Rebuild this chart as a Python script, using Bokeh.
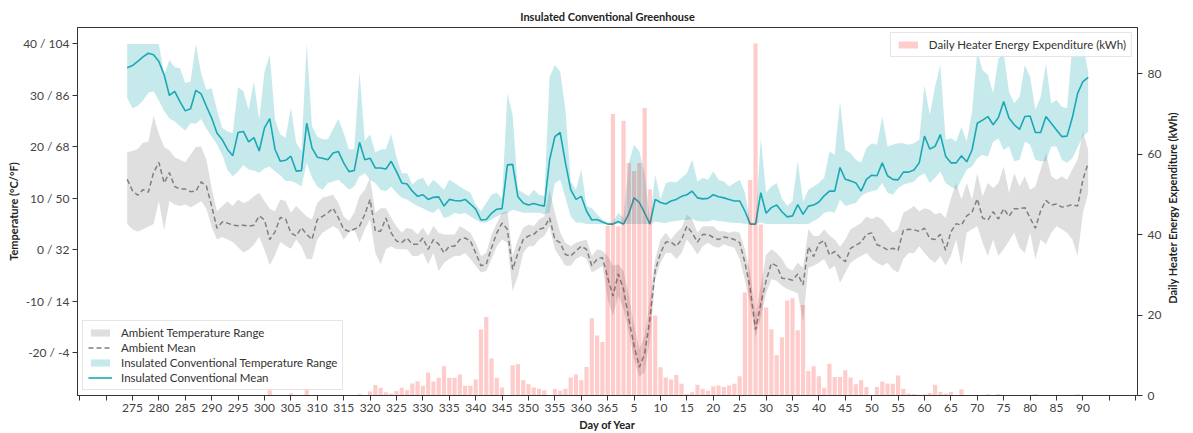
import math
import numpy as np
from bokeh.plotting import figure
from bokeh.layouts import row
from bokeh.models import (Range1d, LinearAxis, FixedTicker, Legend, LegendItem,
                          ColumnDataSource, Label)
from bokeh.embed import file_html
from bokeh.resources import INLINE

FONT = "Lato"

# Day of year for each daily record (1 Oct .. 31 Mar)
days = list(range(274, 366)) + list(range(1, 92))

# Ambient temperature (°C)
amb_mean = [
    13.7, 11.5, 10.6, 11.7, 11.2, 15.0, 17.0, 13.0, 15.0, 12.3,
    11.8, 11.8, 11.3, 11.4, 13.2, 12.4, 8.5, 4.2, 5.4, 5.2,
    4.8, 4.7, 4.8, 4.6, 4.8, 6.6, 5.8, 2.0, 3.5, 6.3,
    6.0, 3.3, 2.7, 4.3, 3.0, 2.0, 5.9, 6.5, 7.2, 8.1,
    6.2, 4.0, 3.6, 4.0, 4.6, 6.9, 9.8, 3.6, 3.6, 6.2,
    3.3, 1.7, 1.4, 2.3, 1.1, 1.1, 2.3, 0.1, 2.0, 1.1,
    -0.6, 0.7, 0.7, 2.0, 2.3, 1.7, -0.6, -3.1, -2.8, 0.4,
    3.3, 5.2, 4.0, -3.8, -0.6, 2.0, 2.7, 3.0, 4.0, 4.3,
    6.2, 2.0, 1.4, -0.9, -1.2, -0.2, 0.7, 0.1, -3.1, -1.8,
    -1.5, -5.4, -9.0, -4.7, -7.6, -13.4, -18.6, -22.8, -20.2, -13.4,
    -4.0, -0.6, 1.5, 1.5, 0.7, 2.0, 4.6, 3.3, 1.5, 3.0,
    3.0, 2.4, 2.0, 2.5, 2.3, 2.0, 1.4, -2.5, -7.6, -15.5,
    -10.5, -6.0, -2.6, -3.1, -5.5, -5.6, -5.9, -4.7, -6.8, 0.6,
    -1.3, 1.2, 1.8, -1.0, -0.3, -1.5, -2.3, 0.3, 0.9, 1.5,
    3.0, 3.3, 1.0, 0.6, 0.0, 0.3, -0.1, 3.8, 4.0, 3.9,
    3.6, 4.2, 2.2, 2.0, 3.0, -0.1, 3.5, 5.1, 4.8, 6.6,
    7.3, 9.9, 6.2, 5.8, 7.4, 6.0, 8.0, 6.5, 8.0, 8.0,
    8.2, 6.2, 4.2, 7.6, 9.6, 8.7, 8.9, 8.3, 8.5, 8.8,
    8.5, 13.6, 16.9,
]
amb_min = [
    5.0, 4.0, 3.5, 4.0, 4.5, 5.0, 9.5, 3.8, 9.5, 8.8,
    8.5, 8.8, 8.3, 8.8, 9.5, 8.0, 4.5, 2.0, 2.5, 2.0,
    1.5, 0.5, -0.5, 0.0, 1.0, 2.5, 0.0, -3.0, -1.0, 1.5,
    0.8, 0.2, 2.0, 0.7, -1.8, -1.8, 2.0, 3.3, 4.0, 4.6,
    4.0, 2.0, 3.3, 4.0, 1.4, 4.0, 5.9, -0.6, -2.8, 0.1,
    0.7, 0.1, 0.1, 0.1, -1.2, -1.2, -0.6, -2.8, -0.6, -4.1,
    -2.5, -1.8, -1.2, -1.2, -0.6, -1.8, -3.1, -4.4, -4.1, -1.8,
    0.7, 2.0, 1.4, -8.0, -5.1, -0.6, 0.7, 0.7, 2.0, 2.7,
    4.6, 0.1, -1.5, -3.1, -3.1, -1.8, -1.2, -1.8, -4.4, -3.8,
    -3.1, -9.6, -12.8, -8.9, -11.5, -16.0, -21.2, -24.7, -23.8, -17.3,
    -5.7, -2.5, -0.6, -0.6, -1.8, -0.6, 2.0, 0.7, -0.9, 0.7,
    1.4, 0.7, 0.4, 1.1, 0.7, 0.4, -1.8, -6.0, -10.5, -17.0,
    -13.0, -8.5, -5.7, -6.0, -7.0, -7.6, -8.0, -8.5, -14.0, -3.5,
    -3.1, -2.5, -1.8, -3.8, -3.1, -6.4, -4.4, -2.5, -1.8, -1.2,
    -0.6, -1.8, -2.5, -3.1, -2.5, -3.8, -4.4, -1.8, -0.6, -0.6,
    0.7, -0.6, -1.8, -2.5, -1.2, -3.1, -1.2, 2.0, -3.1, 3.3,
    4.0, 4.6, 1.4, -1.2, 2.0, -1.2, 0.1, 1.7, 3.3, 0.4,
    -0.6, 3.3, -1.8, 2.0, 1.1, 3.3, 4.6, 4.0, 3.3, 2.0,
    -1.2, 7.2, 11.0,
]
amb_max = [
    19.0, 19.2, 19.6, 20.8, 21.0, 26.0, 22.5, 20.0, 19.3, 18.0,
    17.5, 17.0, 18.5, 20.0, 20.1, 17.5, 12.0, 7.5, 8.5, 9.4,
    8.5, 9.8, 9.1, 9.5, 10.4, 11.1, 9.5, 8.0, 7.5, 9.8,
    9.5, 7.2, 8.5, 7.5, 6.5, 5.9, 9.1, 10.1, 10.4, 10.7,
    9.1, 6.5, 5.6, 7.2, 10.4, 11.7, 14.0, 7.2, 8.1, 8.1,
    6.2, 4.6, 3.3, 4.3, 4.0, 3.0, 4.3, 2.7, 4.7, 3.3,
    3.0, 3.0, 3.0, 4.6, 4.0, 3.3, 1.4, -1.2, -0.6, 3.0,
    5.2, 7.2, 7.5, -1.2, 2.0, 4.3, 4.9, 4.6, 5.9, 6.5,
    11.7, 7.2, 3.3, 1.4, 0.7, 1.4, 1.7, 2.0, -1.2, 0.1,
    -0.2, -1.2, -3.1, -2.8, -4.1, -8.9, -14.7, -19.3, -16.7, -9.6,
    -1.8, 2.0, 3.3, 2.0, 3.3, 4.3, 6.9, 5.9, 3.3, 4.6,
    4.6, 4.6, 3.6, 3.6, 3.3, 3.6, 3.3, 0.0, -4.5, -12.5,
    -7.0, -1.0, 0.1, -0.6, -1.8, -3.5, -4.0, -2.5, -3.5, 4.0,
    2.7, 2.7, 4.0, 2.8, 2.0, 0.6, 2.0, 4.0, 4.6, 5.2,
    6.5, 6.0, 6.5, 5.9, 4.6, 3.3, 4.0, 7.2, 7.8, 8.5,
    7.5, 8.1, 7.8, 6.9, 7.2, 6.2, 10.0, 13.0, 9.8, 13.0,
    9.8, 14.9, 10.4, 13.0, 12.0, 13.0, 16.2, 11.1, 14.9, 12.3,
    14.3, 11.7, 12.3, 15.6, 18.8, 14.3, 13.6, 14.3, 13.6, 15.6,
    17.5, 23.0, 19.4,
]

# Insulated conventional greenhouse temperature (°C)
ins_mean = [
    35.4, 35.8, 36.6, 37.5, 38.2, 37.9, 36.6, 34.0, 30.0, 30.8,
    28.8, 27.0, 27.4, 31.0, 30.3, 27.9, 25.6, 22.7, 21.4, 19.5,
    18.3, 22.8, 23.0, 21.0, 21.8, 19.2, 23.7, 25.5, 19.5, 17.2,
    17.4, 18.2, 15.3, 15.4, 24.6, 19.8, 18.0, 17.8, 17.5, 18.8,
    19.1, 16.9, 15.2, 15.4, 20.9, 17.5, 17.8, 15.9, 15.9, 15.7,
    17.2, 15.2, 13.0, 12.8, 11.4, 10.4, 10.7, 9.8, 10.2, 10.3,
    8.5, 9.8, 9.6, 9.5, 9.8, 8.9, 7.9, 5.8, 5.9, 7.1,
    7.9, 8.0, 16.5, 16.6, 10.3, 9.1, 8.7, 9.0, 8.7, 8.5,
    17.5, 22.0, 22.8, 16.9, 11.7, 9.8, 10.4, 7.5, 5.8, 5.9,
    5.4, 5.0, 5.0, 5.5, 5.0, 7.0, 10.1, 9.2, 7.2, 5.0,
    9.8, 9.2, 8.9, 9.5, 9.8, 10.4, 10.7, 11.4, 10.1, 9.9,
    10.0, 10.7, 10.3, 10.1, 9.8, 9.5, 9.5, 7.5, 5.0, 5.0,
    11.1, 7.1, 8.2, 8.7, 7.4, 6.4, 6.6, 8.8, 6.9, 8.5,
    8.7, 9.3, 10.5, 11.4, 11.4, 16.0, 13.7, 13.4, 13.0, 11.4,
    13.7, 14.5, 14.4, 16.9, 14.4, 13.7, 13.6, 15.1, 15.1, 15.5,
    16.9, 22.1, 19.6, 20.1, 22.4, 18.2, 16.9, 16.9, 18.3, 17.1,
    19.4, 24.6, 25.2, 25.9, 24.3, 25.7, 28.8, 25.6, 24.3, 23.4,
    25.9, 26.0, 22.8, 22.8, 25.9, 24.6, 23.3, 22.0, 22.1, 25.7,
    30.4, 32.7, 33.5,
]
ins_min = [
    29.5, 27.5, 28.0, 29.0, 30.5, 30.8, 29.0, 27.0, 25.5, 25.0,
    24.0, 23.2, 24.6, 24.5, 25.4, 23.6, 22.0, 20.5, 18.5, 15.5,
    14.3, 15.2, 16.5, 15.6, 15.4, 15.0, 15.8, 16.2, 15.2, 14.5,
    13.4, 13.4, 13.0, 12.3, 16.9, 14.0, 12.3, 11.7, 13.0, 13.3,
    13.6, 12.7, 11.7, 12.3, 14.3, 14.9, 13.6, 13.0, 11.7, 11.4,
    12.3, 11.1, 10.1, 9.8, 9.1, 8.5, 8.1, 7.5, 7.2, 8.1,
    6.2, 6.5, 7.2, 6.9, 7.2, 6.5, 5.9, 5.3, 5.3, 5.9,
    6.5, 6.9, 7.2, 7.8, 7.5, 7.2, 7.2, 7.2, 7.2, 6.9,
    7.2, 13.0, 13.6, 10.1, 6.5, 5.3, 5.3, 5.0, 5.0, 5.0,
    5.0, 5.0, 5.0, 5.0, 5.0, 5.0, 5.0, 5.0, 5.0, 5.0,
    5.5, 5.3, 5.2, 5.5, 5.6, 5.8, 5.8, 6.0, 5.6, 5.5,
    5.5, 5.8, 5.6, 5.5, 5.3, 5.2, 5.2, 5.0, 5.0, 5.0,
    5.3, 5.0, 5.0, 5.0, 5.0, 5.0, 5.0, 5.0, 5.0, 5.0,
    5.6, 6.2, 7.2, 7.5, 7.2, 9.8, 8.5, 8.8, 9.1, 10.4,
    11.1, 11.4, 11.7, 13.0, 11.1, 10.7, 12.0, 12.7, 13.0, 13.3,
    14.3, 14.9, 13.0, 14.0, 15.2, 13.0, 12.3, 11.7, 13.6, 15.6,
    16.2, 17.8, 18.5, 18.1, 21.0, 21.7, 19.4, 20.1, 17.2, 17.5,
    21.0, 20.4, 17.5, 17.2, 17.2, 20.1, 20.1, 17.5, 16.9, 17.8,
    20.0, 22.0, 23.0,
]
ins_max = [
    40.0, 40.0, 40.0, 40.0, 40.0, 40.0, 40.0, 34.0, 36.9, 35.5,
    35.3, 32.4, 32.7, 40.0, 34.3, 31.1, 31.4, 27.2, 23.7, 23.0,
    22.7, 31.6, 30.8, 27.2, 32.7, 25.3, 34.6, 37.9, 25.3, 22.4,
    21.8, 27.6, 20.8, 19.2, 40.0, 24.0, 22.0, 21.5, 21.5, 23.5,
    25.4, 22.7, 19.5, 19.6, 34.6, 21.2, 22.4, 18.9, 19.5, 19.6,
    22.5, 18.0, 14.9, 14.9, 12.7, 13.6, 14.0, 12.3, 13.6, 12.7,
    11.7, 13.6, 13.0, 12.3, 11.7, 11.1, 8.8, 7.5, 9.1, 10.7,
    11.1, 10.0, 30.4, 26.2, 11.7, 11.1, 10.4, 11.7, 10.7, 10.4,
    33.6, 35.9, 34.6, 27.2, 13.3, 11.7, 15.6, 8.5, 8.1, 6.9,
    5.9, 5.3, 5.3, 7.2, 6.2, 16.9, 20.4, 19.1, 14.9, 5.6,
    14.6, 9.8, 13.0, 13.3, 13.1, 14.0, 14.9, 17.5, 13.3, 14.0,
    13.6, 15.2, 13.6, 13.3, 12.3, 13.0, 13.6, 11.1, 5.3, 5.3,
    21.7, 11.1, 12.3, 13.0, 10.0, 8.5, 9.5, 17.2, 9.4, 11.7,
    12.3, 13.0, 14.0, 19.1, 18.5, 28.8, 19.4, 18.8, 17.5, 16.9,
    19.8, 20.7, 20.4, 25.9, 20.1, 20.4, 20.7, 20.7, 20.4, 20.7,
    21.4, 32.0, 26.2, 31.7, 35.9, 21.4, 21.7, 21.0, 23.9, 21.0,
    26.8, 38.5, 34.9, 34.0, 30.4, 37.2, 38.1, 30.7, 28.5, 29.7,
    35.9, 33.6, 27.2, 29.7, 36.2, 28.5, 29.1, 27.8, 27.5, 39.7,
    40.0, 40.0, 34.5,
]

# Daily heater energy (kWh)
heater_kwh = [
    0, 0, 0, 0, 0, 0, 0, 0, 0, 0,
    0, 0, 0, 0, 0, 0, 0, 0, 0, 0,
    0, 0, 0, 0, 0, 0, 0, 1.3, 0, 0,
    0, 0.5, 0, 0, 1.6, 0, 0, 0, 0, 0,
    0, 0, 0, 0, 0.3, 0, 1.0, 2.6, 1.9, 0.8,
    0.5, 1.2, 1.9, 1.3, 3.0, 3.5, 2.4, 5.7, 3.5, 4.4,
    7.3, 4.4, 4.4, 5.2, 2.4, 2.4, 4.0, 16.4, 19.5, 9.2,
    4.4, 2.0, 0.2, 7.5, 7.8, 3.8, 2.8, 2.0, 1.7, 1.3,
    0, 1.6, 1.2, 1.7, 4.5, 5.2, 3.8, 7.1, 19.2, 14.9,
    13.3, 42.2, 70.0, 42.0, 68.3, 57.8, 55.8, 57.8, 71.5, 51.3,
    19.9, 7.0, 4.5, 4.0, 5.1, 2.9, 0.4, 0.8, 2.7, 1.7,
    1.2, 2.3, 2.5, 2.1, 2.5, 2.9, 4.8, 25.6, 53.6, 87.5,
    42.5, 21.9, 16.5, 10.0, 14.5, 23.6, 24.2, 16.2, 22.5, 6.1,
    7.3, 4.8, 1.9, 7.9, 4.6, 4.6, 6.3, 4.5, 2.8, 3.8,
    2.1, 0.1, 2.1, 3.5, 3.0, 2.9, 5.0, 1.7, 0.5, 0.4,
    0.2, 0.3, 0.6, 2.7, 0.9, 0.5, 0.9, 0, 1.5, 0,
    0, 0, 0, 0.3, 0, 0.4, 0, 0, 0, 0,
    0, 0, 0.4, 0, 0, 0, 0, 0, 0, 0,
    0.3, 0, 0,
]

# Labelled day-of-year ticks
x_tick_days = [275, 280, 285, 290, 295, 300, 305, 310, 315, 320, 325, 330,
               335, 340, 345, 350, 355, 360, 365,
               5, 10, 15, 20, 25, 30, 35, 40, 45, 50, 55, 60, 65, 70, 75,
               80, 85, 90]
temp_ticks_c = [-20, -10, 0, 10, 20, 30, 40]
temp_tick_labels = ["-20 / -4", "-10 / 14", "0 / 32", "10 / 50",
                    "20 / 68", "30 / 86", "40 / 104"]
energy_ticks = [0, 20, 40, 60, 80]

TEAL = "#1aa9b4"
GREY = "#808080"
TEXT = "#333333"
TICK_TEXT = "#444444"

TOTAL_W, H = 1193, 433
STRIP_W = 27          # narrow strip holding the right-hand axis title

x = np.arange(len(days))
src = ColumnDataSource(dict(
    x=x, amb_mean=amb_mean, amb_min=amb_min, amb_max=amb_max,
    ins_mean=ins_mean, ins_min=ins_min, ins_max=ins_max, kwh=heater_kwh,
))

p = figure(width=TOTAL_W - STRIP_W, height=H, output_backend="svg",
           toolbar_location=None,
           x_range=Range1d(-9.41, 191.34), y_range=Range1d(-28.3, 43.2),
           min_border_left=77, min_border_right=56 - STRIP_W, min_border_top=27,
           min_border_bottom=36)
p.extra_y_ranges = {"energy": Range1d(0, 91.5)}

p.title.text = "Insulated Conventional Greenhouse"
p.title.align = "center"
p.title.text_font = FONT
p.title.text_font_size = "11px"
p.title.text_font_style = "bold"
p.title.text_color = "#222222"
p.title.standoff = 10

p.grid.visible = False
p.outline_line_color = TEXT
p.outline_line_width = 1
p.background_fill_color = "white"
p.border_fill_color = "white"

r_amb_band = p.varea(x="x", y1="amb_min", y2="amb_max", source=src,
                     fill_color=GREY, fill_alpha=0.25)
r_amb_line = p.line(x="x", y="amb_mean", source=src, line_color=GREY,
                    line_width=1.5, line_dash="5 3")
r_ins_band = p.varea(x="x", y1="ins_min", y2="ins_max", source=src,
                     fill_color=TEAL, fill_alpha=0.25)
r_ins_line = p.line(x="x", y="ins_mean", source=src, line_color=TEAL,
                    line_width=1.6)
r_bars = p.vbar(x="x", top="kwh", width=0.8, source=src, y_range_name="energy",
                fill_color="red", fill_alpha=0.2, line_color=None)

# x axis: day-of-year labels at their record positions
year_end = days.index(365)
tick_pos = []
for d in x_tick_days:
    if d >= 274:
        tick_pos.append(days.index(d))
    else:
        tick_pos.append(days.index(d, year_end + 1))
step = tick_pos[1] - tick_pos[0]
extra_ticks = [tick_pos[0] - 2 * step, tick_pos[0] - step,
               tick_pos[-1] + step, tick_pos[-1] + 2 * step]
xax = p.xaxis[0]
xax.ticker = FixedTicker(ticks=sorted(tick_pos + extra_ticks))
overrides = {t: str(d) for t, d in zip(tick_pos, x_tick_days)}
overrides.update({t: "" for t in extra_ticks})
xax.major_label_overrides = overrides
xax.axis_label = "Day of Year"

yax = p.yaxis[0]
yax.ticker = FixedTicker(ticks=temp_ticks_c)
yax.major_label_overrides = {t: s for t, s in zip(temp_ticks_c, temp_tick_labels)}
yax.axis_label = "Temperature (°C/°F)"

rax = LinearAxis(y_range_name="energy", ticker=FixedTicker(ticks=energy_ticks))
p.add_layout(rax, "right")

for ax in (xax, yax, rax):
    ax.minor_tick_line_color = None
    ax.major_tick_out = 5
    ax.major_tick_in = 0
    ax.axis_line_color = TEXT
    ax.major_tick_line_color = TEXT
    ax.major_label_text_font = FONT
    ax.major_label_text_font_size = "12px"
    ax.major_label_text_color = TICK_TEXT
    ax.axis_label_text_font = FONT
    ax.axis_label_text_font_size = "11px"
    ax.axis_label_text_font_style = "bold"
    ax.axis_label_text_color = "#222222"
xax.major_label_standoff = 3
xax.axis_label_standoff = 3
yax.major_label_standoff = 3
yax.axis_label_standoff = 0
rax.major_label_standoff = 5
rax.axis_label_standoff = 0


def style_legend(leg):
    leg.label_text_font = FONT
    leg.label_text_font_size = "11.5px"
    leg.label_text_color = TEXT
    leg.glyph_width = 24
    leg.glyph_height = 9
    leg.label_height = 13
    leg.label_standoff = 9
    leg.spacing = 2
    leg.padding = 5
    leg.margin = 5
    leg.border_line_color = "#cccccc"
    leg.border_line_width = 1
    leg.background_fill_color = "white"
    leg.background_fill_alpha = 0.85


leg_temp = Legend(items=[
    LegendItem(label="Ambient Temperature Range", renderers=[r_amb_band]),
    LegendItem(label="Ambient Mean", renderers=[r_amb_line]),
    LegendItem(label="Insulated Conventional Temperature Range", renderers=[r_ins_band]),
    LegendItem(label="Insulated Conventional Mean", renderers=[r_ins_line]),
], location="bottom_left")
style_legend(leg_temp)
p.add_layout(leg_temp)

leg_energy = Legend(items=[
    LegendItem(label="Daily Heater Energy Expenditure (kWh)", renderers=[r_bars]),
], location="top_right")
style_legend(leg_energy)
p.add_layout(leg_energy)

# Right-hand axis title, reading bottom to top like the left one
strip = figure(width=STRIP_W, height=H, output_backend="svg",
               toolbar_location=None, x_axis_location=None,
               y_axis_location=None, x_range=Range1d(0, STRIP_W),
               y_range=Range1d(0, H), min_border=0)
strip.outline_line_color = None
strip.grid.visible = False
strip.border_fill_color = "white"
strip.background_fill_color = "white"
strip.add_layout(Label(
    x=6, y=H - 212,
    text="Daily Heater Energy Expenditure (kWh)",
    angle=math.pi / 2, angle_units="rad",
    text_align="center", text_baseline="middle",
    text_font=FONT, text_font_size="11px", text_font_style="bold",
    text_color="#222222",
))

layout = row(p, strip, spacing=0)
open("out.html", "w").write(file_html(layout, INLINE))
